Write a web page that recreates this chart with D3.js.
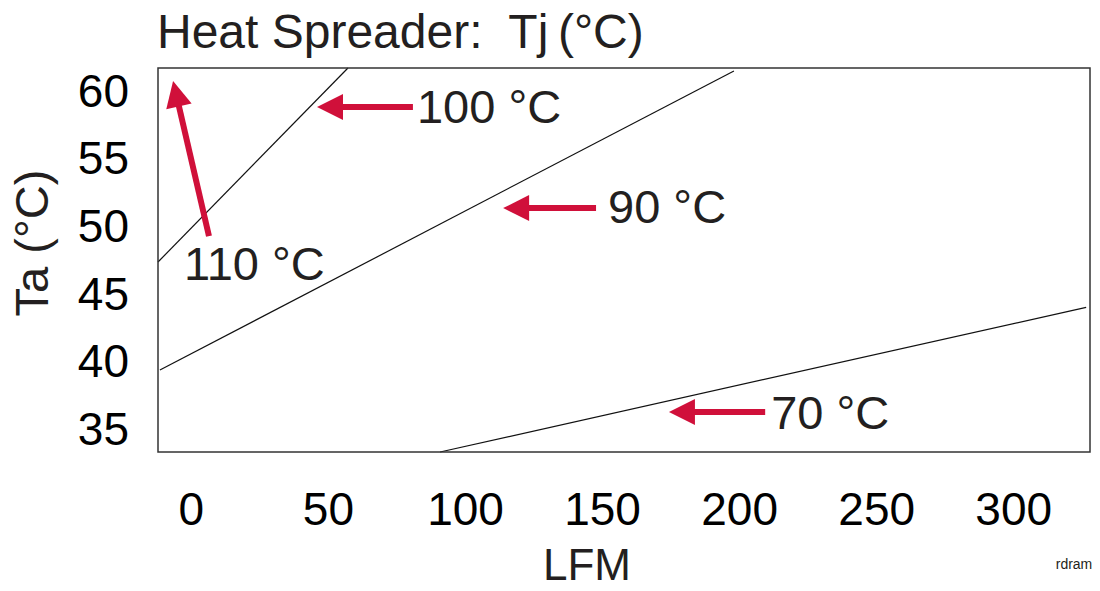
<!DOCTYPE html>
<html>
<head>
<meta charset="utf-8">
<script src="https://cdn.jsdelivr.net/npm/d3@7"></script>
<style>
  body { margin: 0; background: #fff; }
  text { font-family: "Liberation Sans", Arial, sans-serif; fill: #231f20; }
</style>
</head>
<body>
<div id="chart"></div>
<script>
// tamaños
var chart_width  = 1100;
var chart_height = 591;
var margin = { top: 68, right: 10, bottom: 139, left: 158 };

// datos: LFM vs Ta para cada Tj
var xTicks = [0, 50, 100, 150, 200, 250, 300];
var yTicks = [35, 40, 45, 50, 55, 60];
var line110 = [[-12, 47.25], [57.3, 61.6]];
var line90  = [[-11.3, 39.26], [198.1, 61.38]];
var line70  = [[90.9, 33.2], [326.6, 43.9]];

// flechas: [cola, punta] en LFM / Ta
var arrowLabels = ["110 °C", "100 °C", "90 °C", "70 °C"];
var arrowTails  = [[6.6, 49.17], [81.0, 58.72], [147.8, 51.24], [209.5, 36.16]];
var arrowTips   = [[-6.5, 60.64], [46.0, 58.72], [113.9, 51.24], [174.4, 36.16]];

var svg = d3.select("#chart")
    .append("svg")
    .attr("width", chart_width)
    .attr("height", chart_height);

var escalaX = d3.scaleLinear()
    .domain([-12, 328])
    .range([margin.left, chart_width - margin.right]);

var escalaY = d3.scaleLinear()
    .domain([33.2, 61.6])
    .range([chart_height - margin.bottom, margin.top]);

// lineas
var line = d3.line()
    .x(function(d) { return escalaX(d[0]); })
    .y(function(d) { return escalaY(d[1]); });

[line110, line90, line70].forEach(function(datos) {
  svg.append("path")
    .datum(datos)
    .attr("fill", "none")
    .attr("stroke", "#111")
    .attr("stroke-width", 1.2)
    .attr("d", line);
});

// marco
svg.append("rect")
  .attr("x", escalaX.range()[0])
  .attr("y", escalaY.range()[1])
  .attr("width", escalaX.range()[1] - escalaX.range()[0])
  .attr("height", escalaY.range()[0] - escalaY.range()[1])
  .attr("fill", "none")
  .attr("stroke", "#333")
  .attr("stroke-width", 1.5);

// ejes sin marcas
var ejeX = d3.axisBottom(escalaX).tickValues(xTicks).tickSize(0).tickPadding(0);
var gx = svg.append("g")
    .attr("transform", "translate(0," + (chart_height - margin.bottom) + ")")
    .call(ejeX);
gx.select(".domain").remove();
gx.selectAll("text")
    .attr("y", 73)
    .attr("dy", 0)
    .style("font-size", "46px")
    .style("fill", "#000");

var ejeY = d3.axisLeft(escalaY).tickValues(yTicks).tickSize(0).tickPadding(0);
var gy = svg.append("g")
    .attr("transform", "translate(129,0)")
    .call(ejeY);
gy.select(".domain").remove();
gy.selectAll("text")
    .attr("dy", "0.36em")
    .style("font-size", "46px")
    .style("fill", "#000");

// flechas rojas
var rojo = "#d0103a";
function flecha(cola, punta) {
  var x1 = escalaX(cola[0]), y1 = escalaY(cola[1]);
  var x2 = escalaX(punta[0]), y2 = escalaY(punta[1]);
  var ang = Math.atan2(y2 - y1, x2 - x1);
  var largo = Math.hypot(x2 - x1, y2 - y1);
  var g = svg.append("g")
      .attr("transform", "translate(" + x1 + "," + y1 + ") rotate(" + (ang * 180 / Math.PI) + ")");
  g.append("line")
      .attr("x1", 0).attr("y1", 0)
      .attr("x2", largo - 24).attr("y2", 0)
      .attr("stroke", rojo)
      .attr("stroke-width", 6);
  g.append("path")
      .attr("d", "M" + largo + ",0L" + (largo - 26) + ",-13L" + (largo - 26) + ",13Z")
      .attr("fill", rojo);
}
arrowTails.forEach(function(c, i) { flecha(c, arrowTips[i]); });

// etiquetas de flechas
var dxs = [-25, 4, 12, 6];
var dys = [44, 16, 15, 17];
arrowLabels.forEach(function(t, i) {
  svg.append("text")
    .attr("x", escalaX(arrowTails[i][0]) + dxs[i])
    .attr("y", escalaY(arrowTails[i][1]) + dys[i])
    .style("font-size", "47px")
    .style("white-space", "pre")
    .text(t);
});

// titulos
svg.append("text")
  .attr("x", 157)
  .attr("y", 48)
  .style("font-size", "48px")
  .style("white-space", "pre")
  .text("Heat Spreader:  Tj\u2009(°C)");

svg.append("text")
  .attr("transform", "translate(48,243) rotate(-90)")
  .attr("text-anchor", "middle")
  .style("font-size", "47px")
  .style("white-space", "pre")
  .text("Ta (°C)");

svg.append("text")
  .attr("x", 587)
  .attr("y", 580)
  .attr("text-anchor", "middle")
  .style("font-size", "44px")
  .text("LFM");

svg.append("text")
  .attr("x", 1074)
  .attr("y", 569)
  .attr("text-anchor", "middle")
  .style("font-size", "14px")
  .text("rdram");
</script>
</body>
</html>
